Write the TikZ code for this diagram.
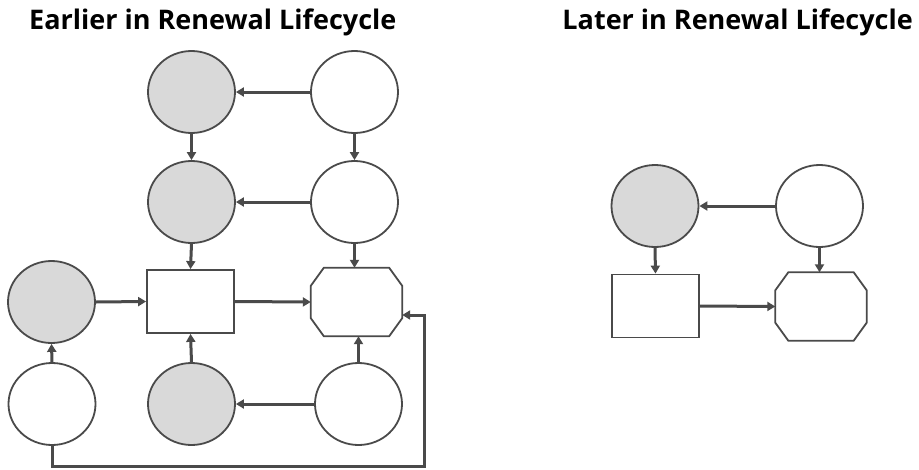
\documentclass[tikz,border=0pt]{standalone}
\usepackage{fontspec}
\setmainfont{Open Sans}
\usetikzlibrary{shapes.geometric,arrows.meta}
\definecolor{edge}{HTML}{4A4A4A}
\definecolor{shade}{HTML}{D9D9D9}
\tikzset{
  outline/.style={draw=edge, line width=1.8pt},
  oval/.style={ellipse, outline, inner sep=0pt,
               minimum width=87pt, minimum height=82pt, fill=white},
  greyoval/.style={oval, fill=shade},
  box/.style={rectangle, outline, inner sep=0pt,
              minimum width=87pt, minimum height=63pt, fill=white},
  octo/.style={rectangle, inner sep=0pt, minimum width=91pt, minimum height=68pt},
  arr/.style={draw=edge, line width=3pt, -{Triangle[length=8pt,width=9pt]}},
  heading/.style={font=\bfseries\fontsize{27}{30}\selectfont, inner sep=0pt}
}
% outline of an eight-sided node with cut corners
\newcommand\octoline[1]{%
  \draw[outline, line join=miter]
    ([xshift=13pt]#1.north west) -- ([xshift=-13pt]#1.north east)
    -- ([yshift=-18pt]#1.north east) -- ([yshift=18pt]#1.south east)
    -- ([xshift=-13pt]#1.south east) -- ([xshift=13pt]#1.south west)
    -- ([yshift=18pt]#1.south west) -- ([yshift=-18pt]#1.north west) -- cycle;}
\begin{document}
\begin{tikzpicture}[x=1pt,y=-1pt]
\useasboundingbox (0,0) rectangle (919,469);

% headings
\node[heading, anchor=base west] (t1) at (29,29) {Earlier in Renewal Lifecycle};
\node[heading, anchor=base east] (t2) at (913,29) {Later in Renewal Lifecycle};

% earlier stage
\node[greyoval] (g1) at (191.5,92) {};
\node[oval]     (w1) at (354.5,92) {};
\node[greyoval] (g2) at (191.5,202) {};
\node[oval]     (w2) at (354.5,202) {};
\node[greyoval] (g3) at (51.5,302) {};
\node[box]      (r3) at (190.5,301.5) {};
\node[octo]     (o3) at (356.5,302) {};
\octoline{o3}
\node[oval]     (w4) at (52,404) {};
\node[greyoval] (g4) at (191.5,404) {};
\node[oval]     (w5) at (358.5,404) {};
\coordinate (loop) at (424,466);

\draw[arr] (w1.west) -- (g1.east);
\draw[arr] (g1.south) -- (g2.north);
\draw[arr] (w1.south) -- (w2.north);
\draw[arr] (w2.west) -- (g2.east);
\draw[arr] (g2.south) -- (r3.north);
\draw[arr] (w2.south) -- (w2.south |- o3.north);
\draw[arr] (g3.east) -- (r3.west);
\draw[arr] (r3.east) -- (o3.west);
\draw[arr] (w4.north) -- (g3.south);
\draw[arr] (g4.north) -- (r3.south);
\draw[arr] (w5.west) -- (g4.east);
\draw[arr] (w5.north) -- (w5.north |- o3.south);
\draw[arr] (w4.south) |- (loop) |- ([yshift=-13pt]o3.east);

% later stage
\node[greyoval] (g6) at (655,206) {};
\node[oval]     (w6) at (819.5,206) {};
\node[box]      (r6) at (655.5,306) {};
\node[octo]     (o6) at (821,306.5) {};
\octoline{o6}

\draw[arr] (w6.west) -- (g6.east);
\draw[arr] (g6.south) -- (r6.north);
\draw[arr] (w6.south) -- (w6.south |- o6.north);
\draw[arr] (r6.east) -- (o6.west);
\end{tikzpicture}
\end{document}
